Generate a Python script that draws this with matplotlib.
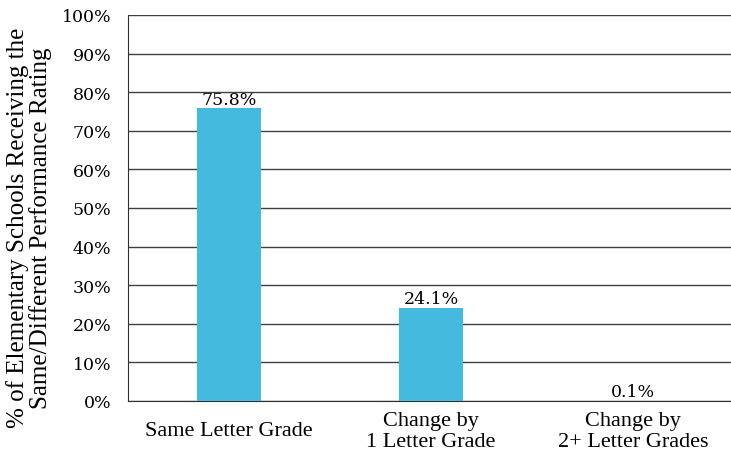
import matplotlib.pyplot as plt
from matplotlib.ticker import FuncFormatter

categories = ['Same Letter Grade', 'Change by\n1 Letter Grade', 'Change by\n2+ Letter Grades']
values = [75.8, 24.1, 0.1]
value_labels = ['75.8%', '24.1%', '0.1%']
y_ticks = list(range(0, 101, 10))

plt.rcParams['font.family'] = ['Liberation Serif', 'DejaVu Serif']
num_font = ['DejaVu Serif']

fig = plt.figure(figsize=(7.31, 4.56), dpi=100)
ax = fig.add_axes([128 / 731, 1 - 402 / 456, 606 / 731, 386 / 456])

x = list(range(len(categories)))
bars = ax.bar(x, values, width=0.32, color='#45BADF', zorder=3)
for b, lab in zip(bars, value_labels):
    ax.text(b.get_x() + b.get_width() / 2, b.get_height() + 0.2, lab,
            ha='center', va='bottom', fontsize=12.5, family=num_font, zorder=4)

ax.set_xlim(-0.5, len(categories) - 0.5)
ax.set_ylim(0, 100)
ax.set_yticks(y_ticks)
ax.yaxis.set_major_formatter(FuncFormatter(lambda v, p: f'{int(v)}%'))
for t in ax.get_yticklabels():
    t.set_family(num_font)
ax.set_xticks(x)
ax.set_xticklabels(categories, fontsize=16, linespacing=1.1, va='center')
ax.tick_params(axis='y', labelsize=12.5, length=0, pad=12)
ax.tick_params(axis='x', length=0, pad=21.5)

ax.grid(axis='y', color='#404040', linewidth=1, zorder=0)
for s in ['top', 'right']:
    ax.spines[s].set_visible(False)
ax.spines['left'].set_color('#303030')
ax.spines['bottom'].set_color('#303030')

fig.text(29 / 731, 1 - 228 / 456,
         '% of Elementary Schools Receiving the\nSame/Different Performance Rating',
         rotation=90, ha='center', va='center', fontsize=18, linespacing=0.95)

fig.savefig('out.png', dpi=100)
